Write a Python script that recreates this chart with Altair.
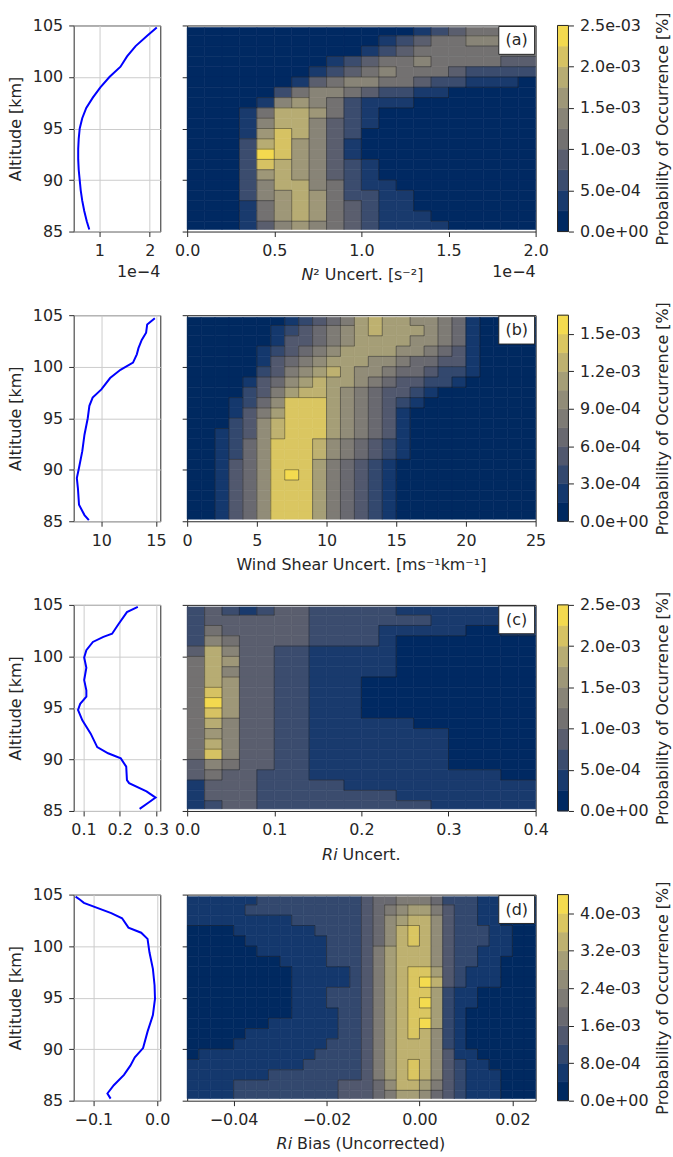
import altair as alt
import pandas as pd

FONT = "DejaVu Sans"
INK = "#262626"
FS = 16
HW, HH = 350, 207      # contour panel
LW = 87                # profile panel width
CW = 11                # colour bar width (visible)
GAP = 27               # grid column spacing
CB_SHIFT = 5           # colour bar sits 5 px closer to its panel than GAP
ALT_TICKS = [85, 90, 95, 100, 105]
CB_LABEL = "replace(replace(format(datum.value, '.1e'), 'e-', 'e-0'), 'e+', 'e+0')"

# ---------------------------------------------------------------- data
# (a) N^2 uncertainty (x in units of 1e-4 s^-2)
a_prof_alt = [85.2, 86, 87, 88, 89, 90, 91, 92, 93, 94, 95, 96, 97, 98, 99, 100, 101, 102, 103, 104, 104.8]
a_prof_val = [0.80, 0.75, 0.70, 0.66, 0.63, 0.61, 0.59, 0.58, 0.58, 0.59, 0.61, 0.66, 0.74, 0.87, 1.02,
              1.20, 1.42, 1.55, 1.72, 1.95, 2.14]
a_x0, a_dx = 0.0, 0.1
a_levels = [  # band index per 1-km row (104.5 km at top) and 0.1e-4 column
    "00000000000001234444",
    "00000000000123445544",
    "00000000001234444444",
    "00000000123445444433",
    "00000001234544432222",
    "00000013455443221110",
    "00000245543221100000",
    "00001565421110000000",
    "00014776421000000000",
    "00015775321000000000",
    "00016875320000000000",
    "00027865310000000000",
    "00029865310000000000",
    "00028765321000000000",
    "00026765321000000000",
    "00025775421100000000",
    "00025676422110000000",
    "00014676432110000000",
    "00014676432111000000",
    "00013565432111100000",
]
a_nb, a_step = 10, 2.5e-4
a_cb_ticks = [0, 5e-4, 1e-3, 1.5e-3, 2e-3, 2.5e-3]

# (b) wind shear uncertainty
b_prof_alt = [85.1, 85.6, 86.6, 88.2, 89.2, 90.2, 91.8, 93.4, 95.0, 96.2, 97.0, 97.8, 98.9, 99.7,
              100.4, 101.2, 101.8, 102.6, 103.3, 104.1, 104.7]
b_prof_val = [8.85, 8.45, 7.95, 7.85, 7.75, 7.95, 8.25, 8.45, 8.75, 8.9, 9.2, 10.0, 10.8, 11.75,
              12.9, 13.25, 13.4, 13.7, 14.1, 14.2, 14.9]
b_x0, b_dx = 0.0, 1.0
b_levels = [
    "0000000123457877665410000",
    "0000001234567877765410000",
    "0000001334567777665410000",
    "0000012345677776654310000",
    "0000013456777665443310000",
    "0000023567876654432210000",
    "0000134678776543322100000",
    "0000235788765433210000000",
    "0001246999765432100000000",
    "0001357999765431000000000",
    "0002368999765431000000000",
    "0012368999765431000000000",
    "0012469998654321000000000",
    "0012469998654321000000000",
    "0013469997543210000000000",
    "0013469a97543210000000000",
    "0013469997543210000000000",
    "0013469997543210000000000",
    "0013469997543210000000000",
    "0013469997543210000000000",
]
b_nb, b_step = 11, 1.5e-4
b_cb_ticks = [0, 3e-4, 6e-4, 9e-4, 1.2e-3, 1.5e-3]

# (c) Ri uncertainty
c_prof_alt = [85.2, 85.8, 86.3, 86.9, 87.7, 88.0, 89.3, 90.1, 90.6, 91.2, 92.5, 93.8, 94.8, 95.4,
              96.1, 96.7, 97.7, 98.9, 99.9, 100.6, 101.4, 101.9, 102.2, 103.1, 104.3, 104.8]
c_prof_val = [0.255, 0.279, 0.299, 0.274, 0.226, 0.220, 0.218, 0.203, 0.168, 0.138, 0.120, 0.097,
              0.085, 0.091, 0.108, 0.108, 0.102, 0.108, 0.102, 0.108, 0.126, 0.155, 0.179, 0.196,
              0.220, 0.250]
c_x0, c_dx = 0.0, 0.02
c_levels = [
    "23212332222211111111",
    "23333332222222111111",
    "24333332222111110011",
    "25433332222100000000",
    "37533221111100000000",
    "47633221111100000000",
    "47533221111100000000",
    "47633221110000000000",
    "48633221110000000000",
    "49633221110000000000",
    "48633221110000000000",
    "47533221111110000000",
    "46533221111111100000",
    "47533221111111100000",
    "48533221111111100000",
    "35433221111111100000",
    "34332221111111111100",
    "13332222211111111111",
    "13332222222211111111",
    "12332222222222111111",
]
c_nb, c_step = 10, 2.5e-4
c_cb_ticks = [0, 5e-4, 1e-3, 1.5e-3, 2e-3, 2.5e-3]

# (d) Ri bias (uncorrected)
d_prof_alt = [85.2, 85.7, 86.5, 87.5, 88.4, 89.2, 90.1, 91.7, 93.3, 94.9, 96.2, 97.8, 99.4, 100.7,
              101.3, 101.8, 102.7, 103.2, 104.2, 104.5, 104.8]
d_prof_val = [-0.073, -0.078, -0.068, -0.052, -0.042, -0.035, -0.022, -0.015, -0.0066, -0.0033,
              -0.004, -0.0066, -0.012, -0.015, -0.025, -0.045, -0.055, -0.072, -0.115, -0.121, -0.128]
d_x0, d_dx = -0.05, 0.0025
d_levels = [
    "111111222222222344555422211000",
    "111112222222222345677532211000",
    "111111111222222346788632211000",
    "000011111112222346898632221100",
    "000001111111222346898632221100",
    "000000111111222357888632211100",
    "000000001111222357888632211000",
    "000000000111112357899732111000",
    "00000000011111235789a832111000",
    "000000000111222357899721100000",
    "00000000011122235789a721100000",
    "000000000111122357899721000000",
    "00000001111112235789a721000000",
    "000001111111122357898621000000",
    "000011111111222357888621000000",
    "011111111112222357888631100000",
    "111111111122222357898632110000",
    "111111122222222357898632111000",
    "111122222222233346887532111000",
    "111122222222233345776432111000",
]
d_nb, d_step = 11, 4e-4
d_cb_ticks = [0, 8e-4, 1.6e-3, 2.4e-3, 3.2e-3, 4.0e-3]


# ---------------------------------------------------------------- helpers
LO_CLIP, HI_CLIP = 85.2, 104.8


def grid_frame(rows, x0, dx):
    recs = []
    for r, s in enumerate(rows):
        hi = 105 - r
        lo = hi - 1
        for c, ch in enumerate(s):
            recs.append({"x0": x0 + c * dx, "x1": x0 + (c + 1) * dx,
                         "y0": max(lo, LO_CLIP), "y1": min(hi, HI_CLIP),
                         "lvl": int(ch, 16)})
    return pd.DataFrame(recs)


def edge_frame(rows, x0, dx):
    """Boundaries between cells of different band -> contour-like outlines."""
    segs = []
    n = len(rows)
    for r, s in enumerate(rows):
        hi = 105 - r
        lo = hi - 1
        ya, yb = max(lo, LO_CLIP), min(hi, HI_CLIP)
        for c in range(len(s)):
            if c + 1 < len(s) and s[c] != s[c + 1]:
                xx = x0 + (c + 1) * dx
                segs.append({"xa": xx, "xb": xx, "ya": ya, "yb": yb})
            if r + 1 < n and c < len(rows[r + 1]) and s[c] != rows[r + 1][c]:
                segs.append({"xa": x0 + c * dx, "xb": x0 + (c + 1) * dx, "ya": lo, "yb": lo})
    return pd.DataFrame(segs)


def text_at(x, y, s, align="center", italic=False, size=FS):
    d = pd.DataFrame({"s": [s]})
    kw = dict(font=FONT, fontSize=size, color=INK, align=align, baseline="middle")
    if italic:
        kw["fontStyle"] = "italic"
    return alt.Chart(d).mark_text(**kw).encode(x=alt.value(x), y=alt.value(y), text="s:N")


def profile(alts, vals, xdom, xticks, xfmt, offset_label=None):
    df = pd.DataFrame({"km": alts, "v": vals})
    line = alt.Chart(df).mark_line(color="#0000ff", strokeWidth=2).encode(
        x=alt.X("v:Q", scale=alt.Scale(domain=xdom, nice=False, zero=False),
                axis=alt.Axis(values=xticks, format=xfmt, grid=True, title=None, labelPadding=6)),
        y=alt.Y("km:Q", scale=alt.Scale(domain=[85, 105], nice=False, zero=False),
                axis=alt.Axis(values=ALT_TICKS, grid=True, title="Altitude [km]",
                              labelPadding=6, titlePadding=9)),
        order=alt.Order("km:Q"),
    )
    layers = [line]
    if offset_label:
        layers.append(text_at(LW, HH + 41, offset_label, align="right"))
    return alt.layer(*layers).properties(width=LW, height=HH)


def heatmap(rows, x0, dx, xdom, xticks, xfmt, nb, tag, title_parts, offset_label=None):
    df = grid_frame(rows, x0, dx)
    xs = alt.Scale(domain=xdom, nice=False, zero=False)
    ys = alt.Scale(domain=[85, 105], nice=False, zero=False)
    cs = alt.Scale(scheme="cividis", domain=[-0.5, nb - 0.5])
    rect = alt.Chart(df).mark_rect(strokeWidth=0.6).encode(
        x=alt.X("x0:Q", scale=xs,
                axis=alt.Axis(values=xticks, format=xfmt, grid=False, title=None, labelPadding=6)),
        x2="x1:Q",
        y=alt.Y("y0:Q", scale=ys,
                axis=alt.Axis(values=ALT_TICKS, labels=False, grid=False, title=None)),
        y2="y1:Q",
        color=alt.Color("lvl:Q", scale=cs, legend=None),
        stroke=alt.Stroke("lvl:Q", scale=cs, legend=None),
    )
    lines = alt.Chart(edge_frame(rows, x0, dx)).mark_rule(
        color="#1a1a1a", strokeWidth=0.8, opacity=0.55).encode(
        x=alt.X("xa:Q", scale=xs, title=None),
        x2="xb:Q",
        y=alt.Y("ya:Q", scale=ys, title=None),
        y2="yb:Q",
    )
    tagdf = pd.DataFrame({"t": [tag]})
    box = alt.Chart(tagdf).mark_rect(fill="white", stroke=INK, strokeWidth=1).encode(
        x=alt.value(HW - 37), x2=alt.value(HW - 1), y=alt.value(1), y2=alt.value(29))
    tag_txt = alt.Chart(tagdf).mark_text(font=FONT, fontSize=FS, color=INK, baseline="middle").encode(
        x=alt.value(HW - 19), y=alt.value(15), text="t:N")
    layers = [rect, lines, box, tag_txt]
    for (x, s, align, italic) in title_parts:
        layers.append(text_at(x, HH + 44, s, align=align, italic=italic))
    if offset_label:
        layers.append(text_at(HW, HH + 41, offset_label, align="right"))
    return alt.layer(*layers).properties(width=HW, height=HH)


def colorbar(nb, step, ticks):
    df = pd.DataFrame({"b0": [i * step for i in range(nb)],
                       "b1": [(i + 1) * step for i in range(nb)],
                       "lvl": list(range(nb))})
    cs = alt.Scale(scheme="cividis", domain=[-0.5, nb - 0.5])
    vw = CW - CB_SHIFT
    bars = alt.Chart(df).mark_rect(strokeWidth=0.6).encode(
        x=alt.value(-CB_SHIFT), x2=alt.value(vw),
        y=alt.Y("b0:Q", scale=alt.Scale(domain=[0, nb * step], nice=False, zero=False),
                axis=alt.Axis(orient="right", values=ticks, labelExpr=CB_LABEL, grid=False,
                              labelPadding=6, title="Probability of Occurrence [%]",
                              titleAngle=270, titleBaseline="top", titlePadding=6)),
        y2="b1:Q",
        color=alt.Color("lvl:Q", scale=cs, legend=None),
        stroke=alt.Stroke("lvl:Q", scale=cs, legend=None),
    )
    frame = alt.Chart(pd.DataFrame({"f": [0]})).mark_rect(
        fill="transparent", stroke=INK, strokeWidth=1).encode(
        x=alt.value(-CB_SHIFT), x2=alt.value(vw), y=alt.value(0), y2=alt.value(HH))
    return alt.layer(bars, frame).properties(
        width=vw, height=HH, view=alt.ViewBackground(strokeWidth=0))


SP = 5  # width of a space at 16 px
panels = [
    profile(a_prof_alt, a_prof_val, [0.49, 2.21], [1, 2], "d", offset_label="1e\u22124"),
    heatmap(a_levels, a_x0, a_dx, [0, 2.0], [0, 0.5, 1.0, 1.5, 2.0], ".1f", a_nb, "(a)",
            [(126.7, "N", "right", True), (126.7, "\u00b2 Uncert. [s\u207b\u00b2]", "left", False)],
            offset_label="1e\u22124"),
    colorbar(a_nb, a_step, a_cb_ticks),

    profile(b_prof_alt, b_prof_val, [7.46, 15.4], [10, 15], "d"),
    heatmap(b_levels, b_x0, b_dx, [0, 25], [0, 5, 10, 15, 20, 25], "d", b_nb, "(b)",
            [(HW / 2, "Wind Shear Uncert. [ms\u207b\u00b9km\u207b\u00b9]", "center", False)]),
    colorbar(b_nb, b_step, b_cb_ticks),

    profile(c_prof_alt, c_prof_val, [0.073, 0.312], [0.1, 0.2, 0.3], ".1f"),
    heatmap(c_levels, c_x0, c_dx, [0, 0.4], [0, 0.1, 0.2, 0.3, 0.4], ".1f", c_nb, "(c)",
            [(151.1, "Ri", "right", True), (151.1 + SP, "Uncert.", "left", False)]),
    colorbar(c_nb, c_step, c_cb_ticks),

    profile(d_prof_alt, d_prof_val, [-0.131, 0.005], [-0.1, 0.0], ".1f"),
    heatmap(d_levels, d_x0, d_dx, [-0.05, 0.025], [-0.04, -0.02, 0.0, 0.02], ".2f", d_nb, "(d)",
            [(105.4, "Ri", "right", True), (105.4 + SP, "Bias (Uncorrected)", "left", False)]),
    colorbar(d_nb, d_step, d_cb_ticks),
]

chart = (
    alt.concat(*panels, columns=3, spacing={"row": 84, "column": GAP}, bounds="flush")
    .resolve_scale(color="independent", stroke="independent")
    .properties(padding={"left": 6, "top": 9, "right": 2, "bottom": 2})
    .configure(font=FONT)
    .configure_view(stroke=INK, strokeWidth=1)
    .configure_axis(labelFont=FONT, titleFont=FONT, labelFontSize=FS, titleFontSize=FS,
                    titleFontWeight="normal", labelColor=INK, titleColor=INK, tickColor=INK,
                    tickSize=5, tickWidth=1, domain=False, gridColor="#cccccc", gridWidth=1,
                    labelFlush=False, labelOverlap=False)
)

chart.save("out.html", embed_options={"renderer": "svg", "actions": False})
